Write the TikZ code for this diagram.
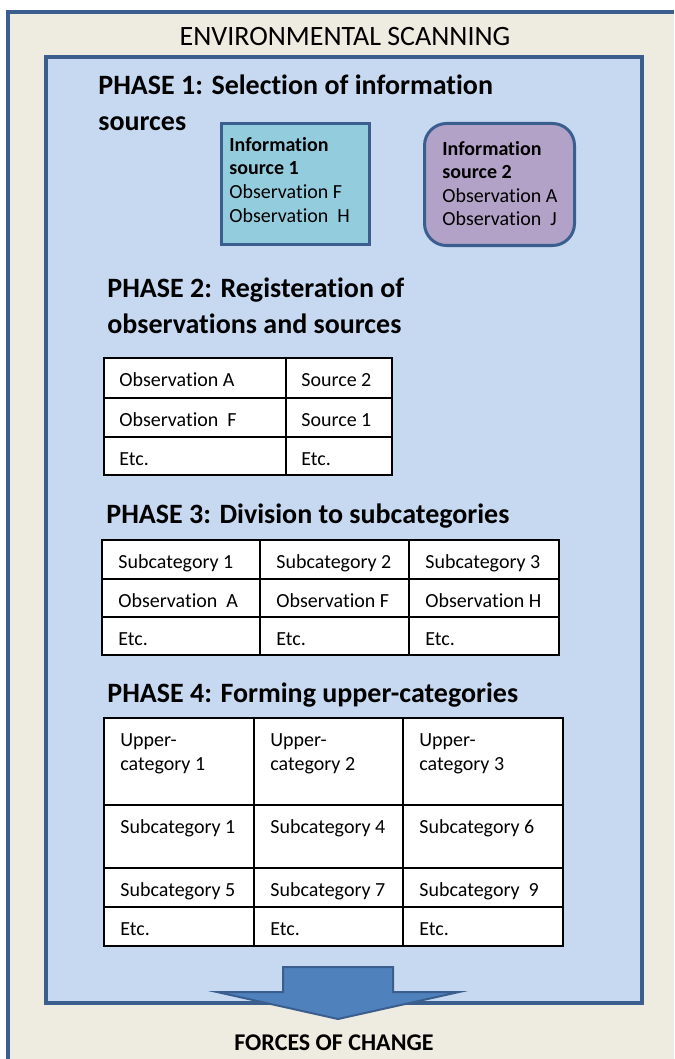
\documentclass[tikz,border=0pt]{standalone}
\usepackage{fontspec}
\setmainfont{Carlito}[Ligatures=NoCommon]
\usetikzlibrary{positioning}

\definecolor{frameblue}{HTML}{3A5F8F}
\definecolor{paper}{HTML}{EEEBE0}
\definecolor{panel}{HTML}{C6D9F1}
\definecolor{teal}{HTML}{93CDDD}
\definecolor{lilac}{HTML}{B3A2C7}
\definecolor{arrowblue}{HTML}{4F81BD}

\tikzset{
	tableline/.style={draw=black, line width=0.8pt},
	celltext/.style={anchor=base west, inner sep=0pt, align=left, font=\fontsize{10}{11.8}\selectfont},
	phase/.style={anchor=base west, inner sep=0pt, align=left, font=\bfseries\fontsize{14}{18}\selectfont},
	srcbox/.style={draw=frameblue, line width=1.5pt, anchor=north west, inner sep=0pt}
}

\begin{document}
\begin{tikzpicture}[x=0.5pt, y=-0.5pt]
		\useasboundingbox (0,0) rectangle (674,1059);
		% outer frame
		\fill[paper] (8,12) rectangle (674,1059);
		\draw[frameblue, line width=2pt] (8,1059) -- (8,12) -- (674,12);
		\node[anchor=base, inner sep=0pt, font=\fontsize{14}{16}\selectfont] (title) at (345,46) {ENVIRONMENTAL SCANNING};
		% inner panel
		\draw[frameblue, fill=panel, line width=2pt] (46,57) rectangle (642,1003);

		% phase 1 (multi-line nodes sit on their last baseline)
		\node[phase] (p1) at (98,131) {PHASE 1: Selection of information\\sources};
		\node[srcbox, fill=teal, minimum width=74pt, minimum height=60.5pt] (src1) at (220,122) {};
		\node[celltext] (src1t) at (229,222) {\textbf{Information}\\\textbf{source 1}\\Observation F\\Observation\ \ H};
		\node[srcbox, fill=lilac, rounded corners=11pt, minimum width=75pt, minimum height=61pt] (src2) at (423,122) {};
		\node[celltext] (src2t) at (442,226) {\textbf{Information}\\\textbf{source 2}\\Observation A\\Observation\ \ J};

		% phase 2
		\node[phase] (p2) at (107,333) {PHASE 2: Registeration of\\observations and sources};
		\draw[tableline, fill=white] (104,358) rectangle (392,475);
		\draw[tableline] (286,358) -- (286,475);
		\foreach \y in {398,437} \draw[tableline] (104,\y) -- (392,\y);
		\node[celltext] (r1a) at (119,386) {Observation A};
		\node[celltext] (r1b) at (301,386) {Source 2};
		\node[celltext] (r2a) at (119,426) {Observation\ \ F};
		\node[celltext] (r2b) at (301,426) {Source 1};
		\node[celltext] (r3a) at (119,465) {Etc.};
		\node[celltext] (r3b) at (301,465) {Etc.};

		% phase 3
		\node[phase] (p3) at (106,523) {PHASE 3: Division to subcategories};
		\draw[tableline, fill=white] (102,540) rectangle (559,655);
		\foreach \x in {260,409} \draw[tableline] (\x,540) -- (\x,655);
		\foreach \y in {579,617} \draw[tableline] (102,\y) -- (559,\y);
		\foreach \x/\t [count=\i] in {118/Subcategory 1, 276/Subcategory 2, 425/Subcategory 3}
			\node[celltext] (s\i) at (\x,568) {\t};
		\node[celltext] (o1) at (118,607) {Observation\ \ A};
		\node[celltext] (o2) at (276,607) {Observation F};
		\node[celltext] (o3) at (425,607) {Observation H};
		\foreach \x [count=\i] in {118,276,425}
			\node[celltext] (e\i) at (\x,645) {Etc.};

		% phase 4
		\node[phase] (p4) at (107,702) {PHASE 4: Forming upper-categories};
		\draw[tableline, fill=white] (104,718) rectangle (563,946);
		\foreach \x in {254,403} \draw[tableline] (\x,718) -- (\x,946);
		\foreach \y in {805,868,907} \draw[tableline] (104,\y) -- (563,\y);
		\foreach \x/\n [count=\i] in {120/1, 270/2, 419/3}
			\node[celltext] (u\i) at (\x,770) {Upper-\\category \n};
		\node[celltext] (k1) at (120,833) {Subcategory 1};
		\node[celltext] (k2) at (270,833) {Subcategory 4};
		\node[celltext] (k3) at (419,833) {Subcategory 6};
		\node[celltext] (m1) at (120,896) {Subcategory 5};
		\node[celltext] (m2) at (270,896) {Subcategory 7};
		\node[celltext] (m3) at (419,896) {Subcategory\ \ 9};
		\foreach \x [count=\i] in {120,270,419}
			\node[celltext] (f\i) at (\x,935) {Etc.};

		% output arrow
		\draw[frameblue, fill=arrowblue, line width=1pt, line join=miter]
			(283,967) -- (393,967) -- (393,992) -- (459,992) -- (338,1019)
			-- (217,992) -- (283,992) -- cycle;
		\node[anchor=base, inner sep=0pt, font=\bfseries\fontsize{12}{14}\selectfont] (forces) at (334,1050) {FORCES OF CHANGE};
	\end{tikzpicture}
\end{document}
